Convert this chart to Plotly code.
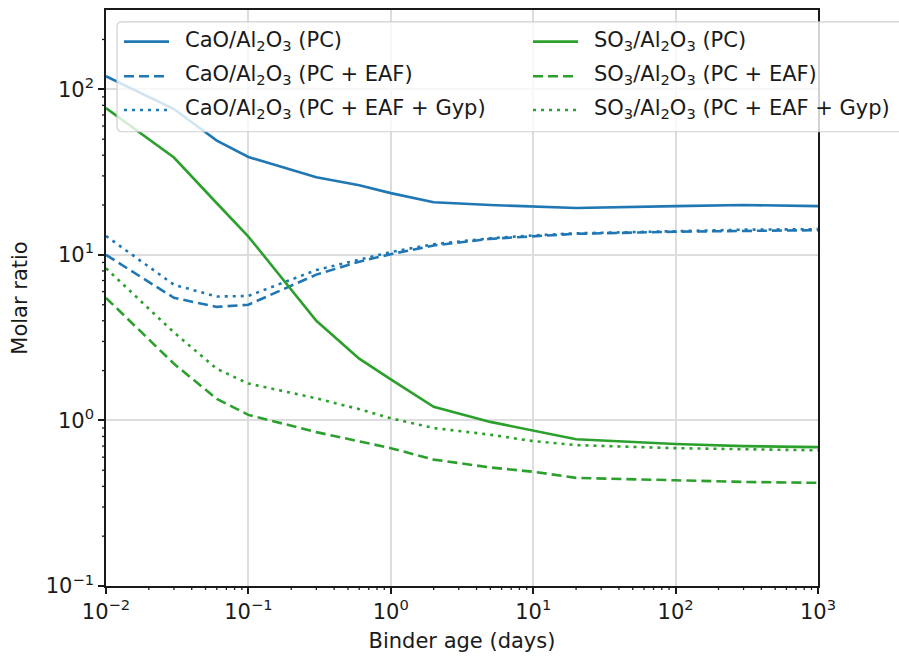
import plotly.graph_objects as go

# Binder age (days) and molar ratios
age = [0.01, 0.03, 0.06, 0.1, 0.3, 0.6, 1, 2, 5, 10, 20, 100, 300, 1000]
cao_pc = [120, 76, 49, 39, 29.4, 26.3, 23.6, 20.8, 20.0, 19.6, 19.2, 19.7, 20.0, 19.7]
cao_pc_eaf = [10.0, 5.5, 4.85, 5.0, 7.6, 9.1, 10.1, 11.4, 12.5, 13.0, 13.4, 13.8, 14.0, 14.1]
cao_pc_eaf_gyp = [13.0, 6.6, 5.6, 5.65, 8.1, 9.4, 10.4, 11.6, 12.6, 13.1, 13.5, 13.9, 14.2, 14.3]
so3_pc = [77, 38.7, 20.5, 12.9, 4.0, 2.36, 1.77, 1.21, 0.98, 0.87, 0.77, 0.72, 0.70, 0.69]
so3_pc_eaf = [5.5, 2.2, 1.35, 1.08, 0.85, 0.75, 0.68, 0.58, 0.52, 0.49, 0.45, 0.435, 0.425, 0.42]
so3_pc_eaf_gyp = [8.3, 3.4, 2.05, 1.67, 1.36, 1.17, 1.03, 0.90, 0.82, 0.75, 0.71, 0.68, 0.67, 0.66]

x_ticks = [0.01, 0.1, 1, 10, 100, 1000]
x_ticktext = ["10<sup>−2</sup>", "10<sup>−1</sup>", "10<sup>0</sup>", "10<sup>1</sup>", "10<sup>2</sup>", "10<sup>3</sup>"]
y_ticks = [0.1, 1, 10, 100]
y_ticktext = ["10<sup>−1</sup>", "10<sup>0</sup>", "10<sup>1</sup>", "10<sup>2</sup>"]

# minor ticks at 2..9 of every decade
x_minor = [m * 10.0 ** e for e in range(-2, 3) for m in range(2, 10)]
y_minor = [m * 10.0 ** e for e in range(-1, 3) for m in range(2, 10) if m * 10.0 ** e < 300]

X_RANGE = [-2, 3]
Y_RANGE = [-1, 2.479]

BLUE = "#1f77b4"
GREEN = "#2ca02c"
DASH = "10px,5px"
DOT = "3px,5px"
LW = 2.6
FONT = "DejaVu Sans"
FS = 21
INK = "#1a1a1a"

series = [
    ("CaO/Al<sub>2</sub>O<sub>3</sub> (PC)", cao_pc, BLUE, "solid"),
    ("CaO/Al<sub>2</sub>O<sub>3</sub> (PC + EAF)", cao_pc_eaf, BLUE, DASH),
    ("CaO/Al<sub>2</sub>O<sub>3</sub> (PC + EAF + Gyp)", cao_pc_eaf_gyp, BLUE, DOT),
    ("SO<sub>3</sub>/Al<sub>2</sub>O<sub>3</sub> (PC)", so3_pc, GREEN, "solid"),
    ("SO<sub>3</sub>/Al<sub>2</sub>O<sub>3</sub> (PC + EAF)", so3_pc_eaf, GREEN, DASH),
    ("SO<sub>3</sub>/Al<sub>2</sub>O<sub>3</sub> (PC + EAF + Gyp)", so3_pc_eaf_gyp, GREEN, DOT),
]

fig = go.Figure()
for name, vals, color, dash in series:
    fig.add_trace(go.Scatter(
        x=age, y=vals, mode="lines", name=name,
        line=dict(color=color, width=LW, dash=dash),
        showlegend=False,
    ))

W, H = 899, 657
L, R, T, B = 106, 818, 8, 590
pw, ph = R - L, B - T


def px(xp):
    return (xp - L) / pw


def py(yp):
    return (B - yp) / ph


shapes = []

# minor tick marks just outside the bottom and left spines
MINOR_LEN = 4
for v in x_minor:
    shapes.append(dict(type="line", xref="x", yref="paper", x0=v, x1=v,
                       y0=0, y1=-MINOR_LEN / ph, line=dict(color=INK, width=1.3)))
for v in y_minor:
    shapes.append(dict(type="line", xref="paper", yref="y", x0=0, x1=-MINOR_LEN / pw,
                       y0=v, y1=v, line=dict(color=INK, width=1.3)))

# Legend box (two columns), drawn on top of the curves
x0, x1, y0, y1, r = 117, 912, 20, 131, 5
path = (f"M {px(x0 + r)},{py(y0)} L {px(x1 - r)},{py(y0)} "
        f"Q {px(x1)},{py(y0)} {px(x1)},{py(y0 + r)} L {px(x1)},{py(y1 - r)} "
        f"Q {px(x1)},{py(y1)} {px(x1 - r)},{py(y1)} L {px(x0 + r)},{py(y1)} "
        f"Q {px(x0)},{py(y1)} {px(x0)},{py(y1 - r)} L {px(x0)},{py(y0 + r)} "
        f"Q {px(x0)},{py(y0)} {px(x0 + r)},{py(y0)} Z")
shapes.append(dict(type="path", path=path, xref="paper", yref="paper",
                   fillcolor="rgba(255,255,255,0.8)", line=dict(color="rgba(204,204,204,0.9)", width=1.2),
                   layer="above"))
annotations = []
rows = [40, 75, 109]
cols = [(124, 169, 183), (533, 578, 592)]
for i, (name, vals, color, dash) in enumerate(series):
    c, rw = divmod(i, 3)
    lx0, lx1, tx = cols[c]
    yy = rows[rw]
    shapes.append(dict(type="line", xref="paper", yref="paper",
                       x0=px(lx0), x1=px(lx1), y0=py(yy), y1=py(yy),
                       line=dict(color=color, width=LW, dash=dash), layer="above"))
    annotations.append(dict(text=name, xref="paper", yref="paper", x=px(tx), y=py(yy - 1),
                            xanchor="left", yanchor="middle", showarrow=False,
                            font=dict(family=FONT, size=FS, color=INK)))

axis_common = dict(
    type="log", showline=True, linecolor=INK, linewidth=1.5, mirror=True,
    ticks="outside", ticklen=6, tickwidth=1.5, tickcolor=INK,
    showgrid=True, gridcolor="#dddddd", gridwidth=1.5, zeroline=False,
    tickfont=dict(family=FONT, size=FS, color=INK),
)

fig.update_layout(
    width=W, height=H,
    margin=dict(l=L, r=W - R, t=T, b=H - B),
    paper_bgcolor="white", plot_bgcolor="white",
    font=dict(family=FONT, size=FS, color=INK),
    xaxis=dict(axis_common, range=X_RANGE, tickvals=x_ticks, ticktext=x_ticktext,
               title=dict(text="Binder age (days)", font=dict(family=FONT, size=FS, color=INK), standoff=10)),
    yaxis=dict(axis_common, range=Y_RANGE, tickvals=y_ticks, ticktext=y_ticktext,
               title=dict(text="Molar ratio", font=dict(family=FONT, size=FS, color=INK), standoff=12)),
    shapes=shapes, annotations=annotations,
)

fig.write_html("out.html")
